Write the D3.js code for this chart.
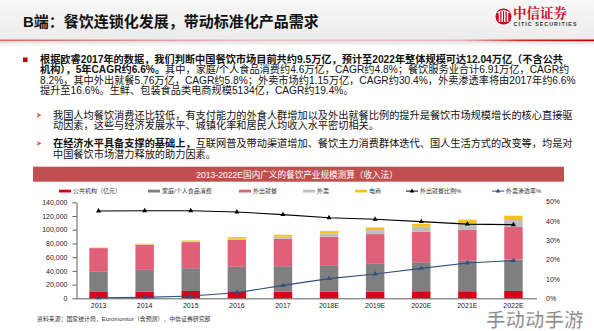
<!DOCTYPE html>
<html><head><meta charset="utf-8">
<script src="https://cdn.jsdelivr.net/npm/d3@7"></script>
<style>
html,body{margin:0;padding:0;background:#fff;}
svg{display:block;font-family:"Liberation Sans","Noto Sans CJK SC",sans-serif;}
</style></head>
<body><svg id="c" width="594" height="331"></svg>
<script>
const years = ["2013","2014","2015","2016","2017","2018E","2019E","2020E","2021E","2022E"];
const publicInst = [9300, 9750, 10700, 10250, 9750, 9750, 9750, 10250, 10250, 10750];
const household  = [29300, 31700, 33200, 35600, 37100, 38550, 40500, 42400, 44400, 45850];
const dineOut    = [34600, 36600, 38050, 39500, 40000, 41450, 43400, 44400, 44900, 47300];
const delivery   = [300, 600, 950, 1450, 2950, 4850, 5850, 7350, 9300, 10250];
const ecommerce  = [500, 900, 1500, 2450, 2900, 3400, 3900, 4400, 5850, 6350];
const dineOutRatio = [45.2, 45.3, 45.3, 44.7, 43.3, 41.7, 40.9, 39.7, 38.4, 38.1];
const deliveryRate = [0.3, 0.5, 1.2, 2.9, 6.7, 10.2, 12.6, 15.5, 18.3, 19.5];
const leftTicks = [0, 20000, 40000, 60000, 80000, 100000, 120000, 140000];
const rightTicks = [0, 10, 20, 30, 40, 50];

const seriesNames = ["公共机构（亿元）","家庭/个人食品消费","外出就餐","外卖","电商"];
const lineNames = ["外出就餐比例%","外卖渗透率%"];
const colors = ["#d9001b","#7f7f7f","#e0607a","#bfbfbf","#f5c21b"];
const lineColors = ["#000000","#2f4f7f"];

const svg = d3.select("#c");
const FONT = '"Liberation Sans","Noto Sans CJK SC",sans-serif';

// ---- header ----
const defs = svg.append("defs");
const hg = defs.append("linearGradient").attr("id","hg").attr("x1",0).attr("x2",0).attr("y1",0).attr("y2",1);
hg.append("stop").attr("offset",0).attr("stop-color","#f7f7f7");
hg.append("stop").attr("offset",1).attr("stop-color","#ececec");
svg.append("rect").attr("x",0).attr("y",0).attr("width",594).attr("height",40).attr("fill","url(#hg)");
const lg = defs.append("linearGradient").attr("id","lg");
lg.append("stop").attr("offset",0).attr("stop-color","#d46a6a");
lg.append("stop").attr("offset",0.45).attr("stop-color","#e9c4c4");
lg.append("stop").attr("offset",0.78).attr("stop-color","#e6b8b8");
lg.append("stop").attr("offset",0.88).attr("stop-color","#cc2a2a");
lg.append("stop").attr("offset",1).attr("stop-color","#c00000");
svg.append("rect").attr("x",0).attr("y",39.5).attr("width",594).attr("height",2).attr("fill","url(#lg)");
const sg = defs.append("linearGradient").attr("id","sg").attr("x1",0).attr("x2",0).attr("y1",0).attr("y2",1);
sg.append("stop").attr("offset",0).attr("stop-color","#e4e4e4");
sg.append("stop").attr("offset",1).attr("stop-color","#ffffff");
svg.append("rect").attr("x",0).attr("y",41.5).attr("width",594).attr("height",5).attr("fill","url(#sg)");

svg.append("text").attr("x",23).attr("y",27).attr("font-size",15).attr("font-weight","bold")
  .attr("fill","#111").text("B端：餐饮连锁化发展，带动标准化产品需求");

// logo
const logo = svg.append("g");
logo.append("circle").attr("cx",503.5).attr("cy",16.5).attr("r",8).attr("fill","#d0021b");
[-4,-1.3,1.3,4].forEach(dx=>{
  logo.append("rect").attr("x",503.5+dx-0.7).attr("y",11).attr("width",1.4).attr("height",11).attr("fill","#fff");
});
logo.append("path").attr("d","M497.5,13 Q503.5,8 509.5,13").attr("stroke","#fff").attr("stroke-width",1.2).attr("fill","none");
logo.append("text").attr("x",513).attr("y",18).attr("font-size",13.5).attr("font-weight","bold")
  .attr("font-family",'"Noto Serif CJK SC","Noto Sans CJK SC",serif').attr("fill","#c8102e").text("中信证券");
logo.append("text").attr("x",513.5).attr("y",25.5).attr("font-size",5.3).attr("font-weight","bold")
  .attr("fill","#333").attr("textLength",63).text("CITIC SECURITIES");

// ---- paragraphs ----
const FS = 10.2;
svg.append("rect").attr("x",23).attr("y",57.5).attr("width",4.5).attr("height",4.5).attr("fill","#c00000");
function line(x, y, parts){
  const t = svg.append("text").attr("x",x).attr("y",y).attr("font-size",FS).attr("fill","#111");
  parts.forEach(p=>{
    t.append("tspan").attr("font-weight",p[1]?"bold":"normal").text(p[0]);
  });
  return t;
}
line(40,62.8,[["根据欧睿2017年的数据，我们判断中国餐饮市场目前共约9.5万亿，预计至2022年整体规模可达12.04万亿（不含公共",1]]);
line(40,73.3,[["机构），5年CAGR约6.6%。",1],["其中，家庭/个人食品消费约4.6万亿，CAGR约4.8%；餐饮服务业合计6.91万亿，CAGR约",0]]);
line(40,83.8,[["8.2%，其中外出就餐5.76万亿，CAGR约5.8%；外卖市场约1.15万亿，CAGR约30.4%，外卖渗透率将由2017年约6.6%",0]]);
line(40,94.3,[["提升至16.6%。生鲜、包装食品类电商规模5134亿，CAGR约19.4%。",0]]);

function arrow(x,y){
  svg.append("path").attr("d",`M${x},${y-2.6} L${x+5},${y} L${x},${y+2.6} L${x+1.6},${y} Z`).attr("fill","#e0542a");
}
arrow(36.5,115.2);
line(53,118.8,[["我国人均餐饮消费还比较低，有支付能力的外食人群增加以及外出就餐比例的提升是餐饮市场规模增长的核心直接驱",0]]);
line(53,129.4,[["动因素，这些与经济发展水平、城镇化率和居民人均收入水平密切相关。",0]]);
arrow(36.5,143.5);
line(53,147.2,[["在经济水平具备支撑的基础上，",1],["互联网普及带动渠道增加、餐饮主力消费群体迭代、国人生活方式的改变等，均是对",0]]);
line(53,158.2,[["中国餐饮市场潜力释放的助力因素。",0]]);

// ---- chart title bar ----
svg.append("rect").attr("x",33).attr("y",166.7).attr("width",531).attr("height",15).attr("fill","#c24f4f");
svg.append("text").attr("x",297).attr("y",177.6).attr("text-anchor","middle").attr("font-size",8.6)
  .attr("fill","#fff").text("2013-2022E国内广义的餐饮产业规模测算（收入法）");

// ---- legend ----
const leg = svg.append("g").attr("font-size",6).attr("fill","#333");
const legX = [59,148,239,303,355];
seriesNames.forEach((n,i)=>{
  leg.append("rect").attr("x",legX[i]).attr("y",189.7).attr("width",12).attr("height",2.8).attr("fill",colors[i]);
  leg.append("text").attr("x",legX[i]+14).attr("y",193.2).text(n);
});
const lineLegX = [406,492];
lineNames.forEach((n,i)=>{
  leg.append("line").attr("x1",lineLegX[i]).attr("x2",lineLegX[i]+12).attr("y1",191.1).attr("y2",191.1)
    .attr("stroke",lineColors[i]).attr("stroke-width",1);
  leg.append("path").attr("transform",`translate(${lineLegX[i]+6},191.1)`)
    .attr("d",d3.symbol(d3.symbolTriangle,9)()).attr("fill",lineColors[i]);
  leg.append("text").attr("x",lineLegX[i]+14).attr("y",193.2).text(n);
});

// ---- scales ----
const x = d3.scaleBand().domain(years).range([75.5,536.5]).paddingInner(0.6).paddingOuter(0.3);
const y = d3.scaleLinear().domain([0,140000]).range([298.3,202.3]);
const y2 = d3.scaleLinear().domain([0,50]).range([298.3,201.7]);

// stacked bars
const rows = years.map((yr,i)=>({yr, s0:publicInst[i], s1:household[i], s2:dineOut[i], s3:delivery[i], s4:ecommerce[i]}));
const stack = d3.stack().keys(["s0","s1","s2","s3","s4"])(rows);
const bars = svg.append("g");
stack.forEach((layer,k)=>{
  bars.selectAll(null).data(layer).enter().append("rect")
    .attr("x",d=>x(d.data.yr)).attr("width",x.bandwidth())
    .attr("y",d=>y(d[1])).attr("height",d=>y(d[0])-y(d[1]))
    .attr("fill",colors[k]);
});

// axes
const yAxis = svg.append("g").attr("transform","translate(76.5,0)")
  .call(d3.axisLeft(y).tickValues(leftTicks).tickSize(4).tickSizeOuter(0).tickFormat(d3.format(",")));
yAxis.selectAll("text").attr("font-size",7).attr("fill","#222").attr("font-family",FONT).attr("dx",-2);
yAxis.selectAll("line,path").attr("stroke","#333").attr("stroke-width",0.8);

const xAxis = svg.append("g").attr("transform","translate(0,298.3)")
  .call(d3.axisBottom(x).tickSize(0).tickSizeOuter(0));
xAxis.select("path").attr("d","M76.5,0.5H537").attr("stroke","#333").attr("stroke-width",0.8);
xAxis.selectAll("text").attr("font-size",7).attr("fill","#222").attr("font-family",FONT).attr("dy","0.95em");

const y2Axis = svg.append("g").attr("transform","translate(541,0)")
  .call(d3.axisRight(y2).tickValues(rightTicks).tickSize(0).tickSizeOuter(0).tickFormat(d=>d+"%"));
y2Axis.select("path").remove();
y2Axis.selectAll("text").attr("font-size",7).attr("fill","#222").attr("font-family",FONT).attr("dx",2);

// lines
const cx = d=>x(d)+x.bandwidth()/2;
[[dineOutRatio,0],[deliveryRate,1]].forEach(([vals,k])=>{
  const ln = d3.line().x((d,i)=>cx(years[i])).y(d=>y2(d));
  svg.append("path").attr("d",ln(vals)).attr("fill","none").attr("stroke",lineColors[k]).attr("stroke-width",1.1);
  svg.selectAll(null).data(vals).enter().append("path")
    .attr("transform",(d,i)=>`translate(${cx(years[i])},${y2(d)})`)
    .attr("d",d3.symbol(d3.symbolTriangle,11)()).attr("fill",lineColors[k]);
});

// source
svg.append("text").attr("x",37).attr("y",321).attr("font-size",5.9).attr("fill","#333")
  .text("资料来源：国家统计局，Euromonitor（含预测），中信证券研究部");

// watermark
svg.append("text").attr("x",486).attr("y",326.5).attr("font-size",19.5).attr("font-weight","bold")
  .attr("fill","#7d7d7d").attr("fill-opacity",0.9).attr("stroke","#ffffff").attr("stroke-width",0.6)
  .attr("font-family",'"Noto Sans CJK SC",sans-serif').text("手动动手游");
</script></body></html>
